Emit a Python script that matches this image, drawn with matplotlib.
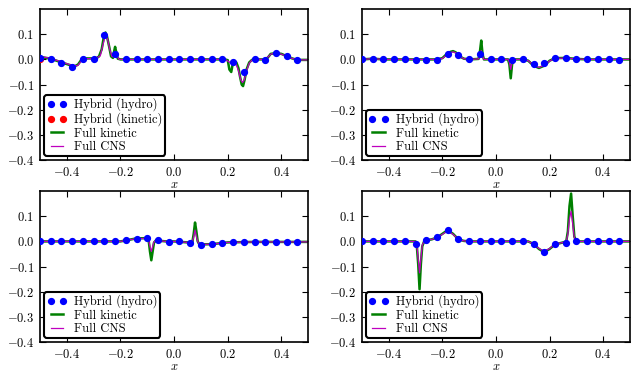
import numpy as np
import matplotlib
matplotlib.use('Agg')
import matplotlib.pyplot as plt

plt.rcParams['font.family'] = 'cmr10'
plt.rcParams['mathtext.fontset'] = 'cm'
plt.rcParams['axes.formatter.use_mathtext'] = True
plt.rcParams['axes.unicode_minus'] = True

# hybrid solution, cell centres
xh = [-0.5 + 0.04 * k for k in range(25)]

hydro1 = [0.007, 0.0, -0.013, -0.03, 0.003, 0.003, 0.098, 0.02, 0.0, 0.0, 0.0, 0.0, 0.0,
          0.0, 0.0, 0.0, 0.0, 0.0, -0.012, -0.05, 0.0, -0.002, 0.025, 0.012, -0.003]
kin_x1 = [-0.5]
kin_y1 = [0.0]
full_kx1 = [-0.5, -0.46, -0.42, -0.39, -0.37, -0.358, -0.345, -0.33, -0.29, -0.28, -0.27, -0.262,
            -0.256, -0.25, -0.242, -0.235, -0.228, -0.224, -0.22, -0.215, -0.21, -0.2, 0.19, 0.2,
            0.206, 0.213, 0.219, 0.225, 0.232, 0.24, 0.246, 0.252, 0.257, 0.263, 0.27, 0.28, 0.29,
            0.3, 0.34, 0.35, 0.36, 0.38, 0.40, 0.42, 0.44, 0.46, 0.5]
full_ky1 = [0.01, 0.003, -0.012, -0.022, -0.027, -0.02, 0.0, 0.004, 0.004, 0.012, 0.04, 0.09,
            0.107, 0.09, 0.05, 0.012, 0.006, 0.03, 0.05, 0.025, 0.003, 0.0, 0.0, -0.003,
            -0.04, -0.05, -0.015, -0.008, -0.012, -0.035, -0.07, -0.1, -0.106, -0.08, -0.04, -0.012, -0.002,
            0.0, 0.0, 0.008, 0.022, 0.025, 0.022, 0.013, 0.004, -0.002, -0.002]
cns_x1 = [-0.5, -0.46, -0.42, -0.38, -0.36, -0.345, -0.33, -0.29, -0.275, -0.265, -0.256, -0.248,
          -0.24, -0.232, -0.225, -0.22, -0.214, -0.205, 0.19, 0.205, 0.212, 0.22, 0.23, 0.24, 0.248,
          0.255, 0.262, 0.27, 0.28, 0.29, 0.3, 0.34, 0.352, 0.362, 0.38, 0.40, 0.42, 0.44, 0.46, 0.5]
cns_y1 = [0.012, 0.004, -0.01, -0.024, -0.025, -0.005, 0.003, 0.004, 0.015, 0.06, 0.095, 0.08,
          0.04, 0.012, 0.01, 0.022, 0.015, 0.0, 0.0, -0.01, -0.015, -0.012, -0.015, -0.045, -0.08,
          -0.092, -0.08, -0.045, -0.015, -0.003, 0.0, 0.0, 0.012, 0.022, 0.024, 0.021, 0.012, 0.004, -0.002, -0.002]

hydro2 = [0.0, 0.003, 0.0, 0.0, 0.0, -0.001, -0.004, -0.003, 0.021, 0.016, 0.0, 0.02, 0.0,
          0.0, -0.001, 0.0, -0.02, -0.015, 0.004, 0.005, 0.0, 0.0, 0.0, 0.0, -0.003]
full_kx2 = [-0.5, -0.46, -0.42, -0.22, -0.2, -0.185, -0.17, -0.16, -0.15, -0.135, -0.12, -0.1, -0.065,
            -0.06, -0.055, -0.05, -0.045, 0.045, 0.05, 0.055, 0.06, 0.065, 0.1, 0.12, 0.14, 0.16,
            0.18, 0.2, 0.22, 0.26, 0.3, 0.34, 0.5]
full_ky2 = [0.0, 0.003, 0.0, 0.0, 0.005, 0.02, 0.03, 0.033, 0.028, 0.012, 0.003, 0.0, 0.002,
            0.03, 0.075, 0.02, 0.0, 0.0, -0.02, -0.075, -0.02, 0.0, 0.0, -0.005, -0.025, -0.034,
            -0.025, -0.005, 0.005, 0.006, 0.002, 0.0, 0.0]
cns_x2 = [-0.5, -0.46, -0.42, -0.22, -0.2, -0.185, -0.17, -0.16, -0.15, -0.135, -0.12, -0.1, -0.065,
          -0.06, -0.055, -0.05, -0.045, 0.045, 0.05, 0.055, 0.06, 0.065, 0.1, 0.12, 0.14, 0.16,
          0.18, 0.2, 0.22, 0.26, 0.3, 0.34, 0.5]
cns_y2 = [0.0, 0.003, 0.0, 0.0, 0.004, 0.017, 0.027, 0.03, 0.026, 0.012, 0.003, 0.0, 0.002,
          0.015, 0.035, 0.012, 0.0, 0.0, -0.012, -0.04, -0.012, 0.0, 0.0, -0.005, -0.023, -0.032,
          -0.024, -0.006, 0.004, 0.005, 0.002, 0.0, 0.0]

hydro3 = [0.0, 0.001, 0.0, 0.0, 0.0, 0.0, 0.0, 0.001, 0.004, 0.011, 0.012, 0.005, -0.003,
          0.001, -0.008, -0.013, -0.011, -0.005, -0.003, -0.002, -0.002, -0.002, -0.002, -0.002, -0.003]
full_kx3 = [-0.5, -0.2, -0.17, -0.14, -0.1, -0.095, -0.09, -0.085, -0.08, -0.075, -0.068, -0.06,
            -0.03, 0.0, 0.05, 0.068, 0.073, 0.078, 0.083, 0.088, 0.093, 0.1, 0.14, 0.2, 0.3, 0.5]
full_ky3 = [0.0, 0.0, 0.006, 0.012, 0.013, 0.005, -0.04, -0.075, -0.04, -0.005, 0.004, 0.003,
            0.0, 0.0, -0.004, -0.003, 0.03, 0.075, 0.04, 0.0, -0.01, -0.012, -0.011, -0.004, -0.002, -0.002]
cns_x3 = [-0.5, -0.2, -0.17, -0.14, -0.1, -0.095, -0.09, -0.085, -0.08, -0.075, -0.068, -0.06,
          -0.03, 0.0, 0.05, 0.068, 0.073, 0.078, 0.083, 0.088, 0.093, 0.1, 0.14, 0.2, 0.3, 0.5]
cns_y3 = [0.0, 0.0, 0.006, 0.011, 0.012, 0.005, -0.02, -0.04, -0.02, -0.002, 0.004, 0.003,
          0.0, 0.0, -0.004, -0.002, 0.018, 0.045, 0.02, 0.0, -0.01, -0.012, -0.011, -0.004, -0.002, -0.002]

hydro4 = [0.0, 0.0, 0.0, 0.0, 0.0, -0.01, 0.006, 0.016, 0.045, 0.009, 0.0, 0.0, 0.0,
          0.0, 0.0, 0.0, -0.011, -0.044, -0.011, -0.005, 0.0, 0.0, 0.0, 0.0, 0.0]
full_kx4 = [-0.5, -0.3, -0.295, -0.29, -0.285, -0.28, -0.275, -0.268, -0.26, -0.24, -0.22, -0.2,
            -0.18, -0.16, -0.14, -0.12, -0.1, 0.12, 0.14, 0.16, 0.18, 0.2, 0.22, 0.25, 0.262,
            0.268, 0.274, 0.28, 0.286, 0.292, 0.298, 0.31, 0.5]
full_ky4 = [0.0, 0.0, -0.02, -0.09, -0.19, -0.09, -0.02, 0.0, 0.005, 0.008, 0.015, 0.03,
            0.045, 0.03, 0.008, 0.002, 0.0, 0.0, -0.01, -0.03, -0.043, -0.03, -0.012, -0.004, 0.0,
            0.04, 0.14, 0.19, 0.1, 0.02, 0.002, 0.0, 0.0]
cns_x4 = [-0.5, -0.3, -0.295, -0.29, -0.285, -0.28, -0.275, -0.268, -0.26, -0.24, -0.22, -0.2,
          -0.18, -0.16, -0.14, -0.12, -0.1, 0.12, 0.14, 0.16, 0.18, 0.2, 0.22, 0.25, 0.262,
          0.268, 0.274, 0.28, 0.286, 0.292, 0.298, 0.31, 0.5]
cns_y4 = [0.0, 0.0, -0.015, -0.07, -0.125, -0.07, -0.015, 0.0, 0.005, 0.008, 0.015, 0.028,
          0.042, 0.028, 0.008, 0.002, 0.0, 0.0, -0.01, -0.028, -0.04, -0.028, -0.011, -0.004, 0.0,
          0.03, 0.09, 0.12, 0.07, 0.015, 0.002, 0.0, 0.0]

panels = [
    (hydro1, full_kx1, full_ky1, cns_x1, cns_y1, True),
    (hydro2, full_kx2, full_ky2, cns_x2, cns_y2, False),
    (hydro3, full_kx3, full_ky3, cns_x3, cns_y3, False),
    (hydro4, full_kx4, full_ky4, cns_x4, cns_y4, False),
]

fig, axes = plt.subplots(2, 2, figsize=(6.41, 3.78), dpi=100)
plt.subplots_adjust(left=0.0624, right=0.983, top=0.976, bottom=0.095, wspace=0.20, hspace=0.205)

for ax, (hy, kx, ky, cx, cy, show_kin) in zip(axes.flat, panels):
    ax.plot(xh, hy, 'o', color='b', ms=4.2, mec='b', label='Hybrid (hydro)', zorder=4)
    if show_kin:
        ax.plot(kin_x1, kin_y1, 'o', color='r', ms=4.2, mec='r', label='Hybrid (kinetic)', zorder=3)
    ax.plot(kx, ky, '-', color=(0, 0.5, 0), lw=1.8, label='Full kinetic', zorder=2)
    ax.plot(cx, cy, '-', color='m', lw=0.9, label='Full CNS', zorder=2.5)
    ax.set_xlim(-0.5, 0.5)
    ax.set_ylim(-0.4, 0.2)
    ax.set_xticks([-0.4, -0.2, 0.0, 0.2, 0.4])
    ax.set_yticks([-0.4, -0.3, -0.2, -0.1, 0.0, 0.1])
    ax.set_xticklabels(['$-0.4$', '$-0.2$', '$0.0$', '$0.2$', '$0.4$'])
    ax.set_yticklabels(['$-0.4$', '$-0.3$', '$-0.2$', '$-0.1$', '$0.0$', '$0.1$'])
    ax.tick_params(direction='in', top=True, right=True, length=4, width=0.8, labelsize=9, pad=4)
    for s in ax.spines.values():
        s.set_linewidth(1.2)
    ax.set_xlabel('$x$', fontsize=9, labelpad=0)
    leg = ax.legend(loc='lower left', numpoints=2, fontsize=9, fancybox=True, framealpha=1,
                    handlelength=1.6, handletextpad=0.6, borderaxespad=0.35,
                    labelspacing=0.1, borderpad=0.2)
    leg.get_frame().set_edgecolor('black')
    leg.get_frame().set_linewidth(1.5)

plt.savefig('out.png', dpi=100)
